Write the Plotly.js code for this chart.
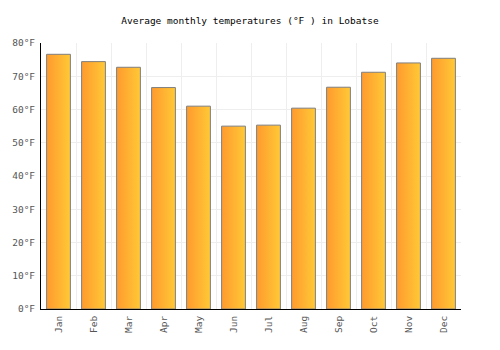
<!DOCTYPE html>
<html><head><meta charset="utf-8">
<script src="https://cdn.plot.ly/plotly-3.0.1.min.js"></script>
<style>html,body{margin:0;padding:0;background:#fff}#c{width:500px;height:350px}</style>
</head><body><div id="c"></div>
<script>
const months = ["Jan","Feb","Mar","Apr","May","Jun","Jul","Aug","Sep","Oct","Nov","Dec"];
const tempsF = [76.6, 74.4, 72.7, 66.6, 61.0, 55.0, 55.3, 60.4, 66.7, 71.2, 74.0, 75.4];
const yTicks = [0, 10, 20, 30, 40, 50, 60, 70, 80];

const half = 0.34;
const traces = tempsF.map((v, i) => ({
  type: 'scatter', mode: 'lines',
  x: [i - half, i - half, i + half, i + half, i - half],
  y: [0, v, v, 0, 0],
  fill: 'toself',
  fillgradient: {type: 'horizontal', colorscale: [[0, '#FF9A2E'], [1, '#FFC936']]},
  line: {color: '#7f7f7f', width: 1},
  hoverinfo: 'skip', showlegend: false
}));
// overlay axis for gridlines at category boundaries
traces.unshift({type: 'scatter', x: [-0.5, 11.5], y: [0, 0], xaxis: 'x2', mode: 'none', showlegend: false, hoverinfo: 'skip'});

const mono = 'DejaVu Sans Mono, monospace';
const layout = {
  width: 500, height: 350,
  margin: {l: 41, r: 39, t: 43, b: 41},
  paper_bgcolor: '#fff', plot_bgcolor: '#fff',
  title: {text: 'Average monthly temperatures (°F ) in Lobatse', font: {family: mono, size: 9.5, color: '#000'}, x: 0.5, xanchor: 'center', y: 0.94, yanchor: 'middle'},
  xaxis: {
    range: [-0.5, 11.5], tickmode: 'array', tickvals: months.map((m, i) => i), ticktext: months,
    tickangle: -90, showgrid: false, zeroline: false, showline: true, linecolor: '#000', linewidth: 1,
    ticks: '', ticklabelstandoff: 2, tickfont: {family: mono, size: 9.5, color: '#555'}, fixedrange: true
  },
  xaxis2: {
    overlaying: 'x', range: [-0.5, 11.5], tickmode: 'linear', tick0: -0.5, dtick: 1,
    showgrid: true, gridcolor: '#eeeeee', showticklabels: false, ticks: '', zeroline: false
  },
  yaxis: {
    range: [0, 80], tickmode: 'array', tickvals: yTicks, ticktext: yTicks.map(t => t + '°F'),
    showgrid: true, gridcolor: '#eeeeee', zeroline: false, showline: true, linecolor: '#000', linewidth: 1,
    ticks: '', ticklabelstandoff: 3, tickfont: {family: mono, size: 9.5, color: '#555'}, fixedrange: true
  }
};
Plotly.newPlot('c', traces, layout, {displayModeBar: false, staticPlot: true});
</script></body></html>
